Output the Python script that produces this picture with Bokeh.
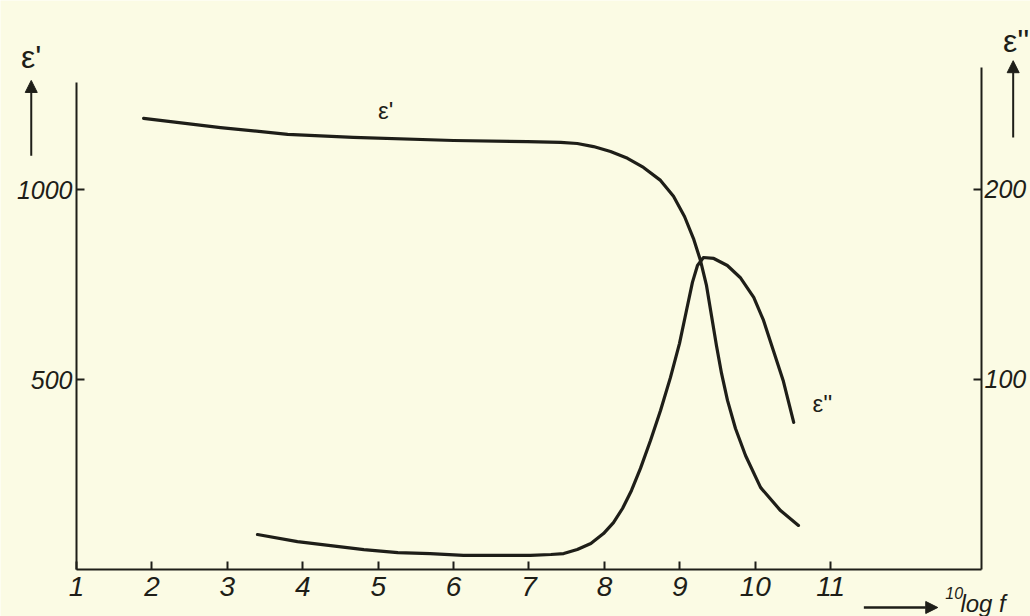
from bokeh.plotting import figure
from bokeh.models import Range1d, LinearAxis, FixedTicker, Label, Arrow, NormalHead
from bokeh.embed import file_html
from bokeh.resources import INLINE

# Real part of the permittivity (left scale) against 10log f
log_f_real = [1.89, 2.91, 3.80, 4.67, 6.00, 6.98, 7.42, 7.64, 7.855, 8.081,
              8.306, 8.518, 8.744, 8.916, 9.062, 9.181, 9.274, 9.354, 9.420, 9.486,
              9.553, 9.632, 9.738, 9.871, 10.070, 10.335, 10.573]
eps_real = [1187, 1163, 1145, 1137, 1129, 1126, 1124, 1121, 1113, 1100,
            1082, 1058, 1024, 982, 929, 871, 813, 747, 668, 589,
            516, 445, 371, 300, 216, 155, 116]

# Loss part of the permittivity (right scale) against 10log f
log_f_loss = [3.40, 3.93, 4.37, 4.81, 5.26, 5.69, 6.13, 6.58, 7.02, 7.29,
              7.46, 7.64, 7.82, 7.988, 8.120, 8.240, 8.359, 8.478, 8.611, 8.744,
              8.876, 8.995, 9.088, 9.167, 9.234, 9.313, 9.45, 9.63, 9.80, 9.98,
              10.11, 10.24, 10.37, 10.51]
eps_loss = [18.4, 14.7, 12.6, 10.5, 8.9, 8.4, 7.4, 7.4, 7.4, 7.9,
            8.4, 10.5, 13.7, 18.9, 24.7, 32.1, 41.6, 53.2, 67.9, 83.7,
            101.1, 118.9, 136.3, 151.1, 160.0, 164.2, 163.7, 160.0, 153.7, 143.2,
            131.1, 115.3, 99.5, 77.4]

x_ticks = [1, 2, 3, 4, 5, 6, 7, 8, 9, 10, 11]
real_ticks = [500, 1000]
loss_ticks = [100, 200]

paper = "#fbfbe4"
ink = "#1e1e18"
font = "Liberation Sans"

# the frame fills the whole page; the axes sit at fixed places inside it
p = figure(width=1030, height=616, output_backend="svg", toolbar_location=None,
           x_range=Range1d(-0.0077, 13.6497), y_range=Range1d(-123.7, 1497.4),
           min_border=0, min_border_left=0, min_border_right=0,
           min_border_top=0, min_border_bottom=0,
           background_fill_color=paper, border_fill_color=paper,
           outline_line_color=None)
p.extra_y_ranges = {"loss": Range1d(-24.74, 299.47)}
p.grid.visible = False

right_axis = LinearAxis(y_range_name="loss")
p.add_layout(right_axis, "right")

for ax in [p.xaxis[0], p.yaxis[0], right_axis]:
    ax.axis_line_color = ink
    ax.axis_line_width = 2
    ax.major_tick_line_color = ink
    ax.major_tick_line_width = 2
    ax.major_tick_in = 8
    ax.major_tick_out = 0
    ax.minor_tick_line_color = None
    ax.major_label_text_color = ink
    ax.major_label_text_font = font
    ax.major_label_text_font_style = "italic"

p.xaxis[0].fixed_location = 0
p.xaxis[0].bounds = (1, 13)
p.xaxis[0].ticker = FixedTicker(ticks=x_ticks)
p.xaxis[0].major_label_text_font_size = "28px"
p.xaxis[0].major_label_standoff = 8

p.yaxis[0].fixed_location = 1
p.yaxis[0].bounds = (0, 1282)
p.yaxis[0].ticker = FixedTicker(ticks=real_ticks)
p.yaxis[0].major_label_text_font_size = "25px"
p.yaxis[0].major_label_standoff = 4

right_axis.fixed_location = 13
right_axis.bounds = (0, 264)
right_axis.ticker = FixedTicker(ticks=loss_ticks)
right_axis.major_label_text_font_size = "25px"
right_axis.major_label_standoff = 3

p.line(log_f_real, eps_real, line_color=ink, line_width=3.2, line_join="round",
       line_cap="round")
p.line(log_f_loss, eps_loss, y_range_name="loss", line_color=ink, line_width=3.2,
       line_join="round", line_cap="round")

# curve names
p.add_layout(Label(x=5.10, y=1208, text="ε'", text_font=font, text_font_size="24px",
                   text_color=ink, text_align="center", text_baseline="middle"))
p.add_layout(Label(x=10.89, y=437, text="ε''", text_font=font, text_font_size="24px",
                   text_color=ink, text_align="center", text_baseline="middle"))

# axis quantities with upward arrows
p.add_layout(Label(x=0.40, y=1350, text="ε'", text_font=font, text_font_size="32px",
                   text_color=ink, text_align="center", text_baseline="middle"))
p.add_layout(Arrow(x_start=0.40, y_start=1089, x_end=0.40, y_end=1287,
                   line_color=ink, line_width=2,
                   end=NormalHead(size=12, fill_color=ink, line_color=ink)))
p.add_layout(Label(x=13.46, y=1392, text="ε''", text_font=font, text_font_size="32px",
                   text_color=ink, text_align="center", text_baseline="middle"))
p.add_layout(Arrow(x_start=13.42, y_start=1137, x_end=13.42, y_end=1339,
                   line_color=ink, line_width=2,
                   end=NormalHead(size=12, fill_color=ink, line_color=ink)))

# frequency axis name
p.add_layout(Arrow(x_start=11.44, y_start=-100, x_end=12.42, y_end=-100,
                   line_color=ink, line_width=2.5,
                   end=NormalHead(size=12, fill_color=ink, line_color=ink)))
p.add_layout(Label(x=12.52, y=-61, text="10", text_font=font, text_font_size="16px",
                   text_font_style="italic", text_color=ink, text_align="left",
                   text_baseline="alphabetic"))
p.add_layout(Label(x=12.72, y=-90, text="log f", text_font=font,
                   text_font_size="24px", text_font_style="italic", text_color=ink,
                   text_align="left", text_baseline="alphabetic"))

open("out.html", "w").write(file_html(p, INLINE))
